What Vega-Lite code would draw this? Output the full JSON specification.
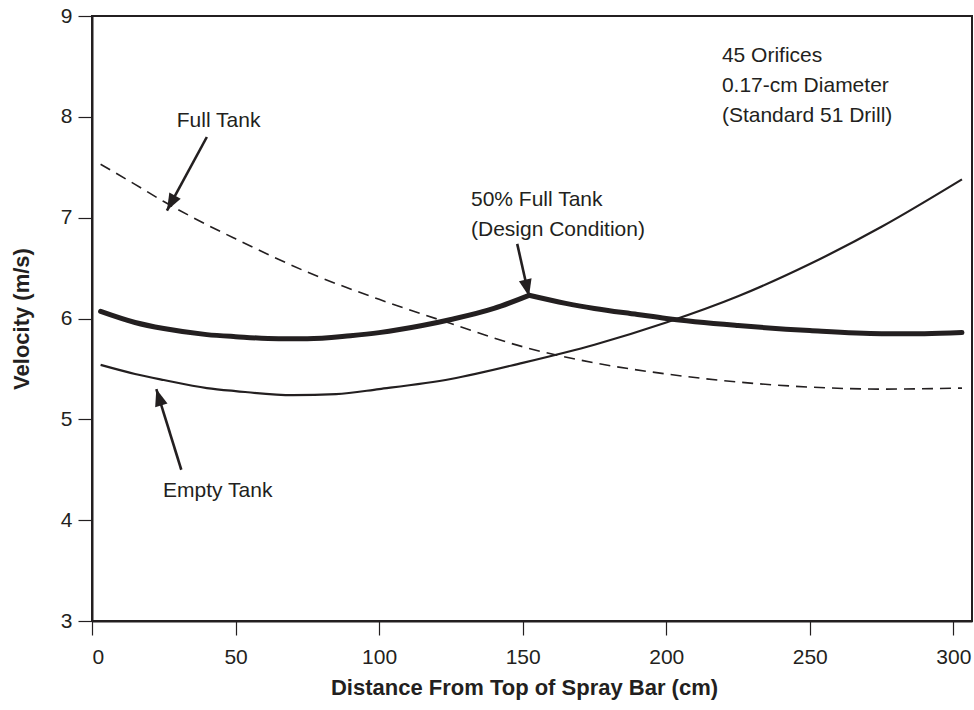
{
  "$schema": "https://vega.github.io/schema/vega-lite/v6.json",
  "width": 880,
  "height": 605,
  "autosize": {"type": "none"},
  "padding": {"left": 92, "top": 16, "right": 2, "bottom": 89},
  "background": "white",
  "config": {
    "view": {"stroke": "#231f20", "strokeWidth": 2},
    "font": "Liberation Sans",
    "axis": {
      "grid": false,
      "domainColor": "#231f20",
      "domainWidth": 2,
      "tickColor": "#231f20",
      "tickWidth": 1.2,
      "tickSize": 14,
      "labelColor": "#231f20",
      "labelFontSize": 21,
      "labelFont": "Liberation Sans",
      "titleColor": "#231f20",
      "titleFont": "Liberation Sans",
      "titleFontSize": 22,
      "titleFontWeight": "bold"
    }
  },
  "datasets": {
    "curves": [
      {"series": "full", "d": 3, "v": 7.53},
      {"series": "full", "d": 15, "v": 7.33},
      {"series": "full", "d": 25, "v": 7.16},
      {"series": "full", "d": 40, "v": 6.93},
      {"series": "full", "d": 50, "v": 6.79},
      {"series": "full", "d": 75, "v": 6.46},
      {"series": "full", "d": 100, "v": 6.19},
      {"series": "full", "d": 125, "v": 5.95},
      {"series": "full", "d": 150, "v": 5.72},
      {"series": "full", "d": 175, "v": 5.56},
      {"series": "full", "d": 200, "v": 5.45},
      {"series": "full", "d": 225, "v": 5.37},
      {"series": "full", "d": 250, "v": 5.32},
      {"series": "full", "d": 275, "v": 5.3},
      {"series": "full", "d": 303, "v": 5.31},
      {"series": "half_rising", "d": 3, "v": 6.07},
      {"series": "half_rising", "d": 15, "v": 5.96},
      {"series": "half_rising", "d": 25, "v": 5.9},
      {"series": "half_rising", "d": 40, "v": 5.84},
      {"series": "half_rising", "d": 50, "v": 5.82},
      {"series": "half_rising", "d": 65, "v": 5.8},
      {"series": "half_rising", "d": 75, "v": 5.8},
      {"series": "half_rising", "d": 90, "v": 5.83},
      {"series": "half_rising", "d": 100, "v": 5.86},
      {"series": "half_rising", "d": 115, "v": 5.93},
      {"series": "half_rising", "d": 125, "v": 5.99},
      {"series": "half_rising", "d": 140, "v": 6.1},
      {"series": "half_rising", "d": 152.2, "v": 6.23},
      {"series": "half_falling", "d": 152.2, "v": 6.23},
      {"series": "half_falling", "d": 165, "v": 6.15},
      {"series": "half_falling", "d": 175, "v": 6.1},
      {"series": "half_falling", "d": 190, "v": 6.04},
      {"series": "half_falling", "d": 200, "v": 6.0},
      {"series": "half_falling", "d": 225, "v": 5.93},
      {"series": "half_falling", "d": 250, "v": 5.88},
      {"series": "half_falling", "d": 275, "v": 5.85},
      {"series": "half_falling", "d": 290, "v": 5.85},
      {"series": "half_falling", "d": 303, "v": 5.86},
      {"series": "empty", "d": 3, "v": 5.54},
      {"series": "empty", "d": 15, "v": 5.45},
      {"series": "empty", "d": 25, "v": 5.39},
      {"series": "empty", "d": 40, "v": 5.31},
      {"series": "empty", "d": 50, "v": 5.28},
      {"series": "empty", "d": 70, "v": 5.24},
      {"series": "empty", "d": 85, "v": 5.25},
      {"series": "empty", "d": 100, "v": 5.3},
      {"series": "empty", "d": 125, "v": 5.4},
      {"series": "empty", "d": 150, "v": 5.56},
      {"series": "empty", "d": 175, "v": 5.74},
      {"series": "empty", "d": 200, "v": 5.96},
      {"series": "empty", "d": 225, "v": 6.22},
      {"series": "empty", "d": 250, "v": 6.54},
      {"series": "empty", "d": 275, "v": 6.91},
      {"series": "empty", "d": 303, "v": 7.38}
    ],
    "arrows": [
      {"name": "full", "d": 40.0, "v": 7.8, "d2": 26.1, "v2": 7.07},
      {"name": "design", "d": 148.1, "v": 6.74, "d2": 152.2, "v2": 6.22},
      {"name": "empty", "d": 31.1, "v": 4.5, "d2": 22.4, "v2": 5.3}
    ],
    "callouts": [
      {"d": 44.1, "v": 7.9, "label": "Full Tank"},
      {"d": 43.8, "v": 4.23, "label": "Empty Tank"}
    ],
    "blocks": [
      {"d": 132.0, "v": 7.115, "label": "50% Full Tank\n(Design Condition)"},
      {"d": 219.4, "v": 8.547, "label": "45 Orifices\n0.17-cm Diameter\n(Standard 51 Drill)"}
    ]
  },
  "encoding": {
    "x": {
      "field": "d",
      "type": "quantitative",
      "title": "Distance From Top of Spray Bar (cm)",
      "scale": {"domain": [0, 306.5], "nice": false, "zero": false},
      "axis": {
        "values": [0, 50, 100, 150, 200, 250, 300],
        "labelPadding": 11,
        "titleX": 432,
        "titleY": 73,
        "titleBaseline": "alphabetic"
      }
    },
    "y": {
      "field": "v",
      "type": "quantitative",
      "title": "Velocity (m/s)",
      "scale": {"domain": [3, 9], "nice": false, "zero": false},
      "axis": {
        "values": [3, 4, 5, 6, 7, 8, 9],
        "labelPadding": 6,
        "titleX": -71,
        "titleBaseline": "middle"
      }
    }
  },
  "layer": [
    {
      "data": {"name": "curves"},
      "transform": [{"filter": "datum.series === 'full'"}],
      "mark": {"type": "line", "interpolate": "monotone", "color": "#231f20", "strokeWidth": 1.6, "strokeDash": [11, 7]}
    },
    {
      "data": {"name": "curves"},
      "transform": [{"filter": "datum.series === 'empty'"}],
      "mark": {"type": "line", "interpolate": "monotone", "color": "#231f20", "strokeWidth": 2.2}
    },
    {
      "data": {"name": "curves"},
      "transform": [{"filter": "datum.series === 'half_rising' || datum.series === 'half_falling'"}],
      "mark": {"type": "line", "interpolate": "monotone", "color": "#231f20", "strokeWidth": 5, "strokeCap": "round", "strokeJoin": "round"},
      "encoding": {"detail": {"field": "series"}}
    },
    {
      "data": {"name": "arrows"},
      "mark": {"type": "rule", "color": "#231f20", "strokeWidth": 2.6},
      "encoding": {"x2": {"field": "d2"}, "y2": {"field": "v2"}}
    },
    {
      "data": {"name": "arrows"},
      "transform": [{"filter": "datum.name === 'full'"}],
      "mark": {"type": "point", "shape": "M0,0L0.38,1L-0.38,1Z", "filled": true, "color": "#231f20", "opacity": 1, "size": 1156, "angle": 208.4},
      "encoding": {"x": {"field": "d2", "type": "quantitative"}, "y": {"field": "v2", "type": "quantitative"}}
    },
    {
      "data": {"name": "arrows"},
      "transform": [{"filter": "datum.name === 'design'"}],
      "mark": {"type": "point", "shape": "M0,0L0.38,1L-0.38,1Z", "filled": true, "color": "#231f20", "opacity": 1, "size": 1156, "angle": 167.3},
      "encoding": {"x": {"field": "d2", "type": "quantitative"}, "y": {"field": "v2", "type": "quantitative"}}
    },
    {
      "data": {"name": "arrows"},
      "transform": [{"filter": "datum.name === 'empty'"}],
      "mark": {"type": "point", "shape": "M0,0L0.38,1L-0.38,1Z", "filled": true, "color": "#231f20", "opacity": 1, "size": 1156, "angle": 342.8},
      "encoding": {"x": {"field": "d2", "type": "quantitative"}, "y": {"field": "v2", "type": "quantitative"}}
    },
    {
      "data": {"name": "callouts"},
      "mark": {"type": "text", "align": "center", "baseline": "alphabetic", "font": "Liberation Sans", "fontSize": 21, "color": "#231f20"},
      "encoding": {"text": {"field": "label"}}
    },
    {
      "data": {"name": "blocks"},
      "mark": {"type": "text", "align": "left", "baseline": "alphabetic", "font": "Liberation Sans", "fontSize": 21, "lineHeight": 30, "lineBreak": "\n", "color": "#231f20"},
      "encoding": {"text": {"field": "label"}}
    }
  ]
}
